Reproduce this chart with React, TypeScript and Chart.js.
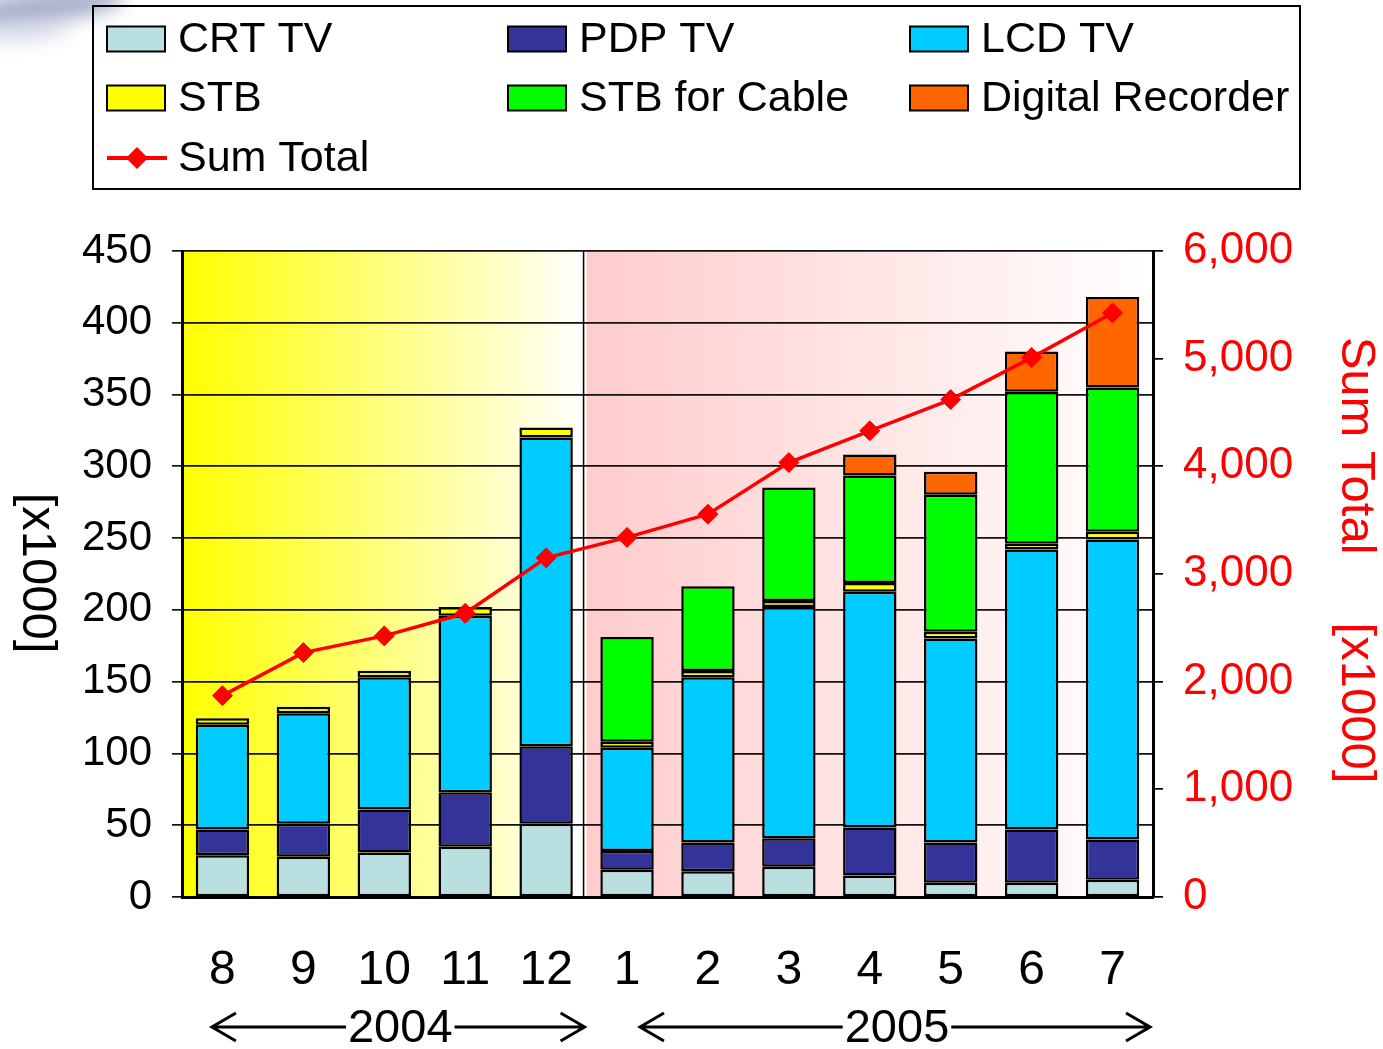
import React, { useEffect, useRef } from "react";
import { Chart, registerables } from "chart.js";

Chart.register(...registerables);

// ---------- data ----------
const months = ["8", "9", "10", "11", "12", "1", "2", "3", "4", "5", "6", "7"];
const crtTV = [29, 28, 31, 35, 51, 19, 18, 21, 15, 10, 10, 12];
const pdpTV = [18, 23, 30, 38, 54, 13, 20, 20, 33.5, 28, 37, 28];
const lcdTV = [73, 77, 92, 123, 215, 72, 115, 161, 164.2, 142, 195, 209];
const stbBox = [4.5, 4.6, 4.6, 6, 7, 4.2, 4.4, 4.2, 6, 4.7, 4, 5.5];
const stbCable = [null, null, null, null, null, 73, 59, 79, 75, 95.5, 106, 100.5];
const digitalRecorder = [null, null, null, null, null, null, null, null, 14.6, 16, 28, 63];
const sumTotal = [1870, 2270, 2425, 2635, 3150, 3340, 3555, 4035, 4330, 4620, 5010, 5425];
const leftTicksMax = 450;
const rightTicksMax = 6000;
const leftTitle = "[x1000]";
const rightTitle = "Sum Total     [x1000]";
const yearSpans = [
  { label: "2004", from: 0, to: 4 },
  { label: "2005", from: 5, to: 11 },
];

const FONT = "'Liberation Sans', Arial, Helvetica, sans-serif";

const swooshPlugin = {
  id: "swoosh",
  beforeDraw(chart: any) {
    const ctx = chart.ctx;
    ctx.save();
    ctx.filter = "blur(9px)";
    ctx.fillStyle = "rgba(140,150,185,0.75)";
    ctx.beginPath();
    ctx.ellipse(40, 8, 85, 16, -0.12, 0, Math.PI * 2);
    ctx.fill();
    ctx.fillStyle = "rgba(200,205,225,0.6)";
    ctx.beginPath();
    ctx.ellipse(20, 32, 50, 10, -0.05, 0, Math.PI * 2);
    ctx.fill();
    ctx.restore();
  },
};

const bandPlugin = {
  id: "bands",
  beforeDraw(chart: any) {
    const { ctx, chartArea } = chart;
    const xs = chart.scales.x;
    const n = months.length;
    const colors = [
      ["#FFFF00", "#FFFFFF"],
      ["#FFCCCC", "#FFFFFF"],
    ];
    yearSpans.forEach((sp, i) => {
      const left = sp.from === 0 ? chartArea.left : (xs.getPixelForValue(sp.from - 1) + xs.getPixelForValue(sp.from)) / 2;
      const right = sp.to === n - 1 ? chartArea.right : (xs.getPixelForValue(sp.to) + xs.getPixelForValue(sp.to + 1)) / 2;
      const g = ctx.createLinearGradient(left, 0, right, 0);
      g.addColorStop(0, colors[i][0]);
      g.addColorStop(1, colors[i][1]);
      ctx.save();
      ctx.fillStyle = g;
      ctx.fillRect(left, chartArea.top, right - left, chartArea.bottom - chartArea.top);
      ctx.restore();
    });
  },
  beforeDatasetsDraw(chart: any) {
    const { ctx, chartArea } = chart;
    const xs = chart.scales.x;
    for (let i = 1; i < yearSpans.length; i++) {
      const sp = yearSpans[i];
      const x = (xs.getPixelForValue(sp.from - 1) + xs.getPixelForValue(sp.from)) / 2 - 3;
      ctx.save();
      ctx.strokeStyle = "#000";
      ctx.lineWidth = 1.5;
      ctx.beginPath();
      ctx.moveTo(x, chartArea.top);
      ctx.lineTo(x, chartArea.bottom);
      ctx.stroke();
      ctx.restore();
    }
  },
};

const legendPlugin = {
  id: "customLegend",
  afterDraw(chart: any) {
    const ctx = chart.ctx;
    const ds = chart.data.datasets;
    ctx.save();
    ctx.strokeStyle = "#000";
    ctx.lineWidth = 2;
    ctx.strokeRect(93, 6, 1207, 183);
    const cols = [107, 508, 910];
    const rows = [39, 98, 158];
    ctx.font = `43px ${FONT}`;
    ctx.textBaseline = "middle";
    ctx.textAlign = "left";
    ds.forEach((d: any, i: number) => {
      const x = cols[i % 3];
      const y = rows[Math.floor(i / 3)];
      if (d.type === "line") {
        ctx.strokeStyle = d.borderColor;
        ctx.lineWidth = 4;
        ctx.beginPath();
        ctx.moveTo(x, y);
        ctx.lineTo(x + 60, y);
        ctx.stroke();
        ctx.fillStyle = d.borderColor;
        ctx.beginPath();
        const r = 11;
        ctx.moveTo(x + 30, y - r);
        ctx.lineTo(x + 30 + r, y);
        ctx.lineTo(x + 30, y + r);
        ctx.lineTo(x + 30 - r, y);
        ctx.closePath();
        ctx.fill();
      } else {
        ctx.fillStyle = d.backgroundColor;
        ctx.fillRect(x, y - 12.5, 58, 25);
        ctx.strokeStyle = "#000";
        ctx.lineWidth = 2;
        ctx.strokeRect(x, y - 12.5, 58, 25);
      }
      ctx.fillStyle = "#000";
      ctx.fillText(d.label, x + 71, y + 1);
    });
    ctx.restore();
  },
};

const yearPlugin = {
  id: "years",
  afterDraw(chart: any) {
    const { ctx, chartArea } = chart;
    const xs = chart.scales.x;
    const n = months.length;
    const cw = xs.getPixelForValue(1) - xs.getPixelForValue(0);
    const y = 1027;
    ctx.save();
    ctx.font = `47px ${FONT}`;
    ctx.textAlign = "center";
    ctx.textBaseline = "middle";
    ctx.fillStyle = "#000";
    ctx.strokeStyle = "#000";
    ctx.lineWidth = 3;
    yearSpans.forEach((sp, i) => {
      const x0 = i === 0 ? xs.getPixelForValue(sp.from) - 0.13 * cw : xs.getPixelForValue(sp.from) + 0.16 * cw;
      const x1 = sp.to === n - 1 ? chartArea.right - 3 : (xs.getPixelForValue(sp.to) + xs.getPixelForValue(sp.to + 1)) / 2 - 2;
      const cx = (x0 + x1) / 2 + 2;
      const w = ctx.measureText(sp.label).width;
      ctx.fillText(sp.label, cx, y + 2);
      ctx.beginPath();
      ctx.moveTo(x0, y);
      ctx.lineTo(cx - w / 2 - 2, y);
      ctx.moveTo(cx + w / 2 + 2, y);
      ctx.lineTo(x1, y);
      ctx.moveTo(x0 + 24, y - 14);
      ctx.lineTo(x0, y);
      ctx.lineTo(x0 + 24, y + 14);
      ctx.moveTo(x1 - 24, y - 14);
      ctx.lineTo(x1, y);
      ctx.lineTo(x1 - 24, y + 14);
      ctx.stroke();
    });
    ctx.restore();
  },
};

const axisTitlePlugin = {
  id: "axisTitles",
  afterDraw(chart: any) {
    const { ctx, chartArea } = chart;
    const midY = (chartArea.top + chartArea.bottom) / 2;
    ctx.save();
    ctx.font = `49px ${FONT}`;
    ctx.textAlign = "center";
    ctx.textBaseline = "middle";
    // left title (rotated clockwise)
    ctx.save();
    ctx.translate(37, midY - 1);
    ctx.rotate(Math.PI / 2);
    ctx.fillStyle = "#000";
    ctx.fillText(leftTitle, 0, 0);
    ctx.restore();
    // right title (rotated clockwise)
    ctx.save();
    ctx.translate(1356, midY - 14);
    ctx.rotate(Math.PI / 2);
    ctx.fillStyle = "#FF0000";
    ctx.fillText(rightTitle, 0, 0);
    ctx.restore();
    ctx.restore();
  },
};

export default function App() {
  const ref = useRef<HTMLCanvasElement>(null);

  useEffect(() => {
    if (!ref.current) return;
    const barCommon = {
      type: "bar" as const,
      borderColor: "#000",
      borderWidth: 2.5,
      borderSkipped: false,
      yAxisID: "y",
      order: 1,
      categoryPercentage: 1,
      barPercentage: 0.66,
    };
    const chart = new Chart(ref.current, {
      type: "bar",
      data: {
        labels: months,
        datasets: [
          { ...barCommon, label: "CRT TV", data: crtTV, backgroundColor: "#BADFE1" },
          { ...barCommon, label: "PDP TV", data: pdpTV, backgroundColor: "#333399" },
          { ...barCommon, label: "LCD TV", data: lcdTV, backgroundColor: "#00CCFF" },
          { ...barCommon, label: "STB", data: stbBox, backgroundColor: "#FFFF00" },
          { ...barCommon, label: "STB for Cable", data: stbCable as any, backgroundColor: "#00FF00" },
          { ...barCommon, label: "Digital Recorder", data: digitalRecorder as any, backgroundColor: "#FF6600" },
          {
            type: "line",
            label: "Sum Total",
            data: sumTotal,
            yAxisID: "y1",
            order: 0,
            borderColor: "#FF0000",
            backgroundColor: "#FF0000",
            borderWidth: 3.5,
            tension: 0,
            pointStyle: "rectRot",
            pointRadius: 10,
            pointBackgroundColor: "#FF0000",
            pointBorderColor: "#FF0000",
            pointBorderWidth: 1,
          } as any,
        ],
      },
      options: {
        responsive: false,
        animation: false,
        layout: { padding: { top: 251, left: 0, right: 0, bottom: 0 } },
        plugins: {
          legend: { display: false },
          tooltip: { enabled: false },
        },
        scales: {
          x: {
            stacked: true,
            grid: { display: true, drawOnChartArea: false, drawTicks: false },
            border: { display: true, color: "#000", width: 3 },
            ticks: {
              font: { family: FONT, size: 48 },
              color: "#000",
              padding: 45,
              maxRotation: 0,
              autoSkip: false,
            },
            afterFit: (s: any) => {
              s.height = 152;
            },
          },
          y: {
            stacked: true,
            position: "left",
            min: 0,
            max: leftTicksMax,
            ticks: { stepSize: 50, font: { family: FONT, size: 42 }, color: "#000", padding: 20 },
            grid: { color: "#111", lineWidth: 1.7, tickLength: 10 },
            border: { color: "#000", width: 3 },
            afterFit: (s: any) => {
              s.width = 182;
            },
          },
          y1: {
            position: "right",
            min: 0,
            max: rightTicksMax,
            ticks: { stepSize: 1000, font: { family: FONT, size: 44 }, color: "#FF0000", padding: 20 },
            grid: { drawOnChartArea: false, color: "#000", lineWidth: 1.7, tickLength: 10 },
            border: { color: "#000", width: 3 },
            afterFit: (s: any) => {
              s.width = 230;
            },
          },
        },
      },
      plugins: [swooshPlugin, bandPlugin, legendPlugin, yearPlugin, axisTitlePlugin],
    } as any);
    return () => chart.destroy();
  }, []);

  return (
    <div style={{ position: "absolute", left: 0, top: 0, width: 1383, height: 1049, background: "#fff" }}>
      <canvas ref={ref} width={1383} height={1049} style={{ display: "block", width: 1383, height: 1049 }} />
    </div>
  );
}
